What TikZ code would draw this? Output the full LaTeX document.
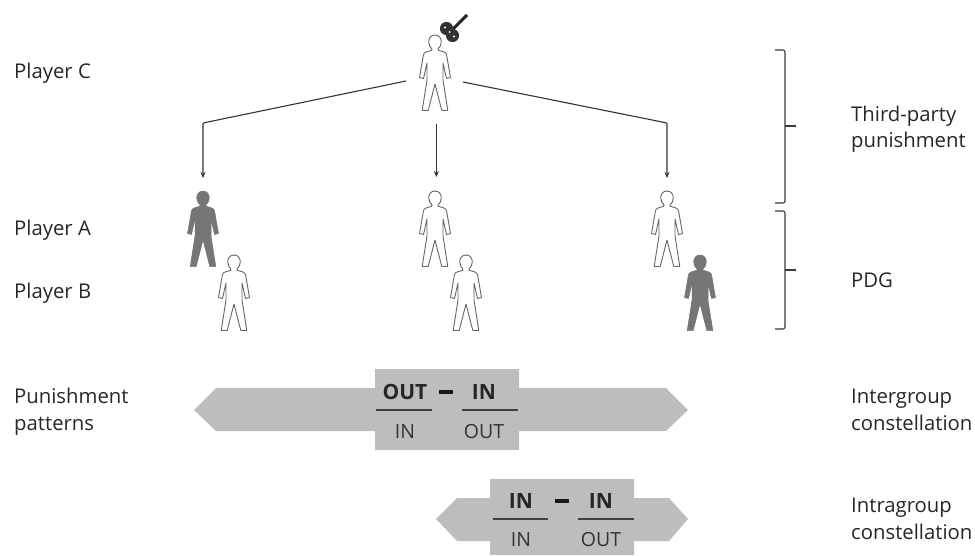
\documentclass[tikz,border=0pt]{standalone}
\usepackage{fontspec}
\setmainfont{Open Sans}
\usetikzlibrary{arrows.meta}
\definecolor{bandgray}{HTML}{BDBDBD}
\definecolor{figgray}{HTML}{767676}
\definecolor{linegray}{HTML}{3A3A3A}
\tikzset{
 x=1pt,y=-1pt,
 lab/.style={anchor=base west,font=\fontsize{20.3}{22}\selectfont,text=black!85,inner sep=0pt},
 bold/.style={anchor=base,font=\fontsize{21}{23}\selectfont\bfseries,text=black!85,inner sep=0pt},
 thin lab/.style={anchor=base,font=\fontsize{19.5}{21}\selectfont,text=black!80,inner sep=0pt},
 band/.style={fill=bandgray,draw=none},
 rulebar/.style={draw=black!75,line width=1.3pt},
 minus/.style={draw=black!90,line width=3.3pt},
 link/.style={draw=black!80,line width=1.1pt},
 linkarrow/.style={link,-{Stealth[length=6pt,width=5pt]}},
 brace/.style={draw=linegray,line width=1.1pt,rounded corners=2pt},
 pics/person/.style={code={
  \path[#1] (0,0) .. controls (-4,0) and (-6.3,3) .. (-6.3,7)
   .. controls (-6.3,10) and (-4.8,12.5) .. (-3,14) -- (-3.2,15.2) -- (-9,17)
   .. controls (-10.5,17.5) and (-11.3,18.5) .. (-11.6,20) -- (-15.5,42.5) -- (-11.5,43.5)
   -- (-8,28) -- (-8,45) -- (-12.8,75.5) -- (-6.8,75.5) -- (0,49)
   -- (6.8,75.5) -- (12.8,75.5) -- (8,45) -- (8,28) -- (11.5,43.5) -- (15.5,42.5)
   -- (11.6,20) .. controls (11.3,18.5) and (10.5,17.5) .. (9,17) -- (3.2,15.2) -- (3,14)
   .. controls (4.8,12.5) and (6.3,10) .. (6.3,7) .. controls (6.3,3) and (4,0) .. (0,0) -- cycle;
 }},
 hollow/.style={draw=black!60,line width=0.9pt,fill=white,line join=round},
 solid/.style={fill=figgray,draw=figgray,line width=0.5pt,line join=round},
}
\begin{document}
\begin{tikzpicture}
\useasboundingbox (0,0) rectangle (975,555);
% persons
\pic at (435,35) {person=hollow};
\pic at (203,191) {person=solid};
\pic at (234,255) {person=hollow};
\pic at (435,191) {person=hollow};
\pic at (466,255) {person=hollow};
\pic at (667,191) {person=hollow};
\pic at (700,255) {person=solid};
% mallet
\draw[black!85,line width=3pt] (467,15) -- (452,30);
\fill[black!80] (446.5,28.5) circle (6.6) (452.5,35.5) circle (6.6);
\fill[white] (445,27.5) circle (1.1) (449.5,32) circle (1) (454,36.5) circle (1.1);
% connectors
\coordinate (cl) at (406,81);
\coordinate (cm) at (436.4,124);
\coordinate (cr) at (463,82);
\coordinate (ta) at (203,178);
\coordinate (tb) at (436.4,177);
\coordinate (tc) at (667,178);
\draw[linkarrow,rounded corners=1pt] (cl) -- (203,123) -- (ta);
\draw[linkarrow] (cm) -- (tb);
\draw[linkarrow,rounded corners=1pt] (cr) -- (667,123) -- (tc);
% braces
\draw[brace] (775,50) -- (785,50) -- (785,203) -- (775,203);
\draw[brace] (785,126) -- (796,126);
\draw[brace] (775,211) -- (785,211) -- (785,329) -- (775,329);
\draw[brace] (785,270) -- (796,270);
% bands
\path[band] (194,410) -- (216,388) -- (375,388) -- (375,369) -- (519,369) -- (519,388) -- (666,388) -- (688,410) -- (666,431) -- (519,431) -- (519,450) -- (375,450) -- (375,431) -- (216,431) -- cycle;
\path[band] (436,519) -- (457,498) -- (490,498) -- (490,479) -- (634,479) -- (634,498) -- (669,498) -- (688,519) -- (669,541) -- (634,541) -- (634,555) -- (490,555) -- (490,541) -- (457,541) -- cycle;
% fractions
\node[bold] (o1) at (405,399) {OUT};
\node[bold] (i1) at (484,399) {IN};
\node[thin lab] (i2) at (405,438) {IN};
\node[thin lab] (o2) at (484,438) {OUT};
\draw[rulebar] (376,410) -- (432,410);
\draw[rulebar] (462,410) -- (518,410);
\draw[minus] (439,392) -- (453,392);
\node[bold] (i3) at (521,508) {IN};
\node[bold] (i4) at (601,508) {IN};
\node[thin lab] (i5) at (521,546) {IN};
\node[thin lab] (o5) at (601,546) {OUT};
\draw[rulebar] (493,519) -- (548,519);
\draw[rulebar] (578,519) -- (634,519);
\draw[minus] (555,501) -- (569,501);
% labels
\node[lab] (pc) at (14,78) {Player C};
\node[lab] (pa) at (14,235) {Player A};
\node[lab] (pb) at (14,298) {Player B};
\node[lab] (pp1) at (14,403) {Punishment};
\node[lab] (pp2) at (14,430) {patterns};
\node[lab] (tp1) at (851,121) {Third-party};
\node[lab] (tp2) at (851,147) {punishment};
\node[lab] (pdg) at (851,287) {PDG};
\node[lab] (ig1) at (851,403) {Intergroup};
\node[lab] (ig2) at (851,430) {constellation};
\node[lab] (ia1) at (851,512) {Intragroup};
\node[lab] (ia2) at (851,539) {constellation};
\end{tikzpicture}
\end{document}
